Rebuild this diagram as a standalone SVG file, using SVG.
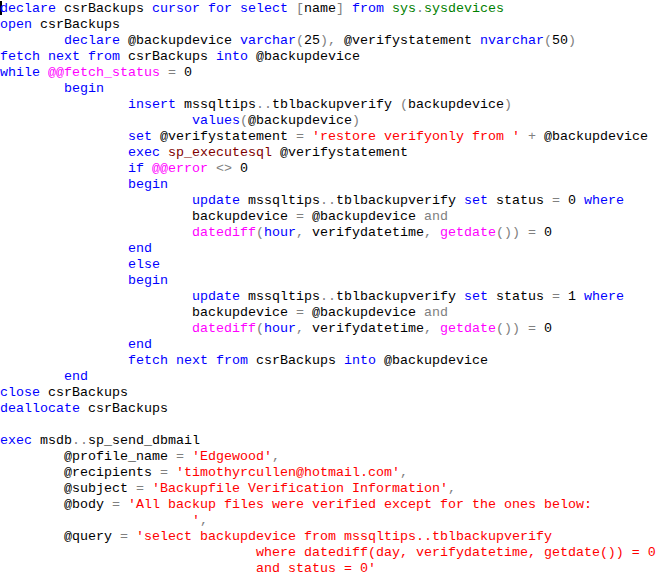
<svg xmlns="http://www.w3.org/2000/svg" width="658" height="576" viewBox="0 0 658 576">
<style>
text{font-family:"Liberation Mono","Courier New",monospace;font-size:13.33px;fill:#000;white-space:pre}
.k{fill:#0000FF}.f{fill:#FF00FF}.s{fill:#FF0000}.o{fill:#808080}.g{fill:#008000}.r{fill:#800000}
</style>
<rect width="658" height="576" fill="#fff"/>
<rect x="0" y="1" width="2" height="14" fill="#000"/>
<g id="code">
<text xml:space="preserve" x="0" y="12"><tspan class="k">declare</tspan> csrBackups <tspan class="k">cursor</tspan> <tspan class="k">for</tspan> <tspan class="k">select</tspan> <tspan class="o">[</tspan>name<tspan class="o">]</tspan> <tspan class="k">from</tspan> <tspan class="g">sys</tspan><tspan class="o">.</tspan><tspan class="g">sysdevices</tspan></text>
<text xml:space="preserve" x="0" y="28"><tspan class="k">open</tspan> csrBackups</text>
<text xml:space="preserve" x="0" y="44">        <tspan class="k">declare</tspan> @backupdevice <tspan class="k">varchar</tspan><tspan class="o">(</tspan>25<tspan class="o">),</tspan> @verifystatement <tspan class="k">nvarchar</tspan><tspan class="o">(</tspan>50<tspan class="o">)</tspan></text>
<text xml:space="preserve" x="0" y="60"><tspan class="k">fetch</tspan> <tspan class="k">next</tspan> <tspan class="k">from</tspan> csrBackups <tspan class="k">into</tspan> @backupdevice</text>
<text xml:space="preserve" x="0" y="76"><tspan class="k">while</tspan> <tspan class="f">@@fetch_status</tspan> <tspan class="o">=</tspan> 0</text>
<text xml:space="preserve" x="0" y="92">        <tspan class="k">begin</tspan></text>
<text xml:space="preserve" x="0" y="108">                <tspan class="k">insert</tspan> mssqltips<tspan class="o">..</tspan>tblbackupverify <tspan class="o">(</tspan>backupdevice<tspan class="o">)</tspan></text>
<text xml:space="preserve" x="0" y="124">                        <tspan class="k">values</tspan><tspan class="o">(</tspan>@backupdevice<tspan class="o">)</tspan></text>
<text xml:space="preserve" x="0" y="140">                <tspan class="k">set</tspan> @verifystatement <tspan class="o">=</tspan> <tspan class="s">'restore verifyonly from '</tspan> <tspan class="o">+</tspan> @backupdevice</text>
<text xml:space="preserve" x="0" y="156">                <tspan class="k">exec</tspan> <tspan class="r">sp_executesql</tspan> @verifystatement</text>
<text xml:space="preserve" x="0" y="172">                <tspan class="k">if</tspan> <tspan class="f">@@error</tspan> <tspan class="o">&lt;&gt;</tspan> 0</text>
<text xml:space="preserve" x="0" y="188">                <tspan class="k">begin</tspan></text>
<text xml:space="preserve" x="0" y="204">                        <tspan class="k">update</tspan> mssqltips<tspan class="o">..</tspan>tblbackupverify <tspan class="k">set</tspan> status <tspan class="o">=</tspan> 0 <tspan class="k">where</tspan></text>
<text xml:space="preserve" x="0" y="220">                        backupdevice <tspan class="o">=</tspan> @backupdevice <tspan class="o">and</tspan></text>
<text xml:space="preserve" x="0" y="236">                        <tspan class="f">datediff</tspan><tspan class="o">(</tspan><tspan class="k">hour</tspan><tspan class="o">,</tspan> verifydatetime<tspan class="o">,</tspan> <tspan class="f">getdate</tspan><tspan class="o">())</tspan> <tspan class="o">=</tspan> 0</text>
<text xml:space="preserve" x="0" y="252">                <tspan class="k">end</tspan></text>
<text xml:space="preserve" x="0" y="268">                <tspan class="k">else</tspan></text>
<text xml:space="preserve" x="0" y="284">                <tspan class="k">begin</tspan></text>
<text xml:space="preserve" x="0" y="300">                        <tspan class="k">update</tspan> mssqltips<tspan class="o">..</tspan>tblbackupverify <tspan class="k">set</tspan> status <tspan class="o">=</tspan> 1 <tspan class="k">where</tspan></text>
<text xml:space="preserve" x="0" y="316">                        backupdevice <tspan class="o">=</tspan> @backupdevice <tspan class="o">and</tspan></text>
<text xml:space="preserve" x="0" y="332">                        <tspan class="f">datediff</tspan><tspan class="o">(</tspan><tspan class="k">hour</tspan><tspan class="o">,</tspan> verifydatetime<tspan class="o">,</tspan> <tspan class="f">getdate</tspan><tspan class="o">())</tspan> <tspan class="o">=</tspan> 0</text>
<text xml:space="preserve" x="0" y="348">                <tspan class="k">end</tspan></text>
<text xml:space="preserve" x="0" y="364">                <tspan class="k">fetch</tspan> <tspan class="k">next</tspan> <tspan class="k">from</tspan> csrBackups <tspan class="k">into</tspan> @backupdevice</text>
<text xml:space="preserve" x="0" y="380">        <tspan class="k">end</tspan></text>
<text xml:space="preserve" x="0" y="396"><tspan class="k">close</tspan> csrBackups</text>
<text xml:space="preserve" x="0" y="412"><tspan class="k">deallocate</tspan> csrBackups</text>
<text xml:space="preserve" x="0" y="444"><tspan class="k">exec</tspan> msdb<tspan class="o">..</tspan>sp_send_dbmail</text>
<text xml:space="preserve" x="0" y="460">        @profile_name <tspan class="o">=</tspan> <tspan class="s">'Edgewood'</tspan><tspan class="o">,</tspan></text>
<text xml:space="preserve" x="0" y="476">        @recipients <tspan class="o">=</tspan> <tspan class="s">'timothyrcullen@hotmail.com'</tspan><tspan class="o">,</tspan></text>
<text xml:space="preserve" x="0" y="492">        @subject <tspan class="o">=</tspan> <tspan class="s">'Backupfile Verification Information'</tspan><tspan class="o">,</tspan></text>
<text xml:space="preserve" x="0" y="508">        @body <tspan class="o">=</tspan> <tspan class="s">'All backup files were verified except for the ones below:</tspan></text>
<text xml:space="preserve" x="0" y="524">                        <tspan class="s">'</tspan><tspan class="o">,</tspan></text>
<text xml:space="preserve" x="0" y="540">        @query <tspan class="o">=</tspan> <tspan class="s">'select backupdevice from mssqltips..tblbackupverify</tspan></text>
<text xml:space="preserve" x="0" y="556">                                <tspan class="s">where datediff(day, verifydatetime, getdate()) = 0</tspan></text>
<text xml:space="preserve" x="0" y="572">                                <tspan class="s">and status = 0'</tspan></text>
</g>
</svg>
